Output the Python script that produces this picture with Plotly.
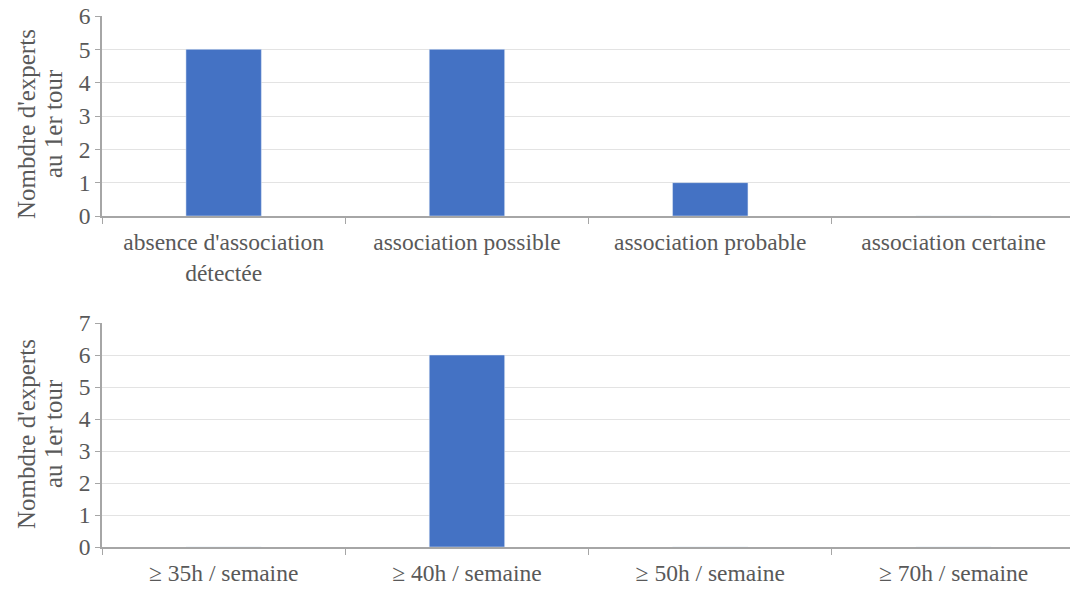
import plotly.graph_objects as go
from plotly.subplots import make_subplots

cat_top = ["absence d'association<br>détectée", "association possible",
           "association probable", "association certaine"]
val_top = [5, 5, 1, 0]
cat_bot = ["≥ 35h / semaine", "≥ 40h / semaine", "≥ 50h / semaine", "≥ 70h / semaine"]
val_bot = [0, 6, 0, 0]
title_lines = ["Nombdre d'experts", "au 1er tour"]

W, H = 1070, 589
fig = make_subplots(rows=2, cols=1)
fig.add_trace(go.Bar(x=cat_top, y=val_top, marker_color="#4472C4", width=0.31), row=1, col=1)
fig.add_trace(go.Bar(x=cat_bot, y=val_bot, marker_color="#4472C4", width=0.31), row=2, col=1)

fam = "Liberation Serif"
grey = "#595959"
font = dict(family=fam, size=23.5, color=grey)
L = 102
xd = [L / W, 1.0]
xr = [-0.5, -0.5 + (W - L) / 243.3]
ax_common = dict(showline=True, linecolor="#a6a6a6", linewidth=1.5, ticks="outside",
                 tickson="boundaries", ticklen=6, tickcolor="#a6a6a6", showgrid=False,
                 tickfont=font, automargin=False, range=xr, ticklabelstandoff=4)
y_common = dict(dtick=1, showgrid=True, gridcolor="#e3e3e3", tickfont=font, ticks="outside",
                ticklen=5, tickcolor="#a6a6a6", showline=True, linecolor="#a6a6a6",
                linewidth=1.5, zeroline=False, automargin=False, ticklabeloverflow="allow")
fig.update_layout(
    font=dict(family=fam),
    xaxis=dict(domain=xd, **ax_common),
    xaxis2=dict(domain=xd, **ax_common),
    yaxis=dict(domain=[1 - 216 / H, 1 - 16 / H], range=[0, 6], **y_common),
    yaxis2=dict(domain=[1 - 547 / H, 1 - 323 / H], range=[0, 7], **y_common),
    width=W, height=H, margin=dict(l=0, r=0, t=0, b=0),
    plot_bgcolor="white", paper_bgcolor="white", showlegend=False,
)
# axis titles as two rotated lines (Excel-like line spacing)
for yc in (124, 434):
    for txt, xc in zip(title_lines, (26, 53)):
        fig.add_annotation(text=txt, xref="paper", yref="paper",
                           x=xc / W, y=1 - yc / H, textangle=-90,
                           showarrow=False, xanchor="center", yanchor="middle",
                           font=dict(family=fam, size=25, color=grey))
fig.write_html("out.html", config={"displayModeBar": False},
               post_script="document.body.style.margin='0';")
